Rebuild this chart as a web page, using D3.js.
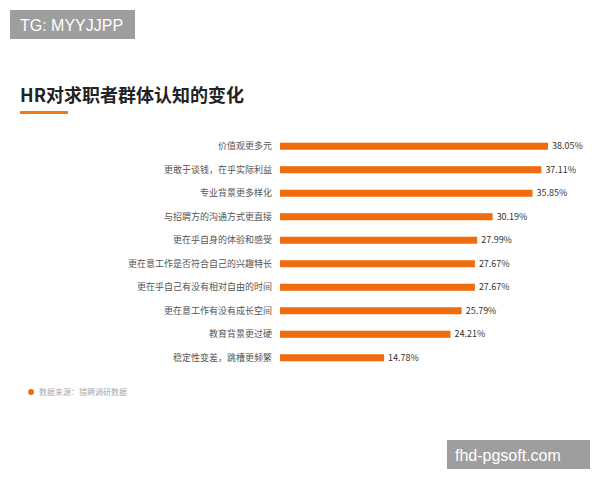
<!DOCTYPE html>
<html><head><meta charset="utf-8">
<script src="https://cdn.jsdelivr.net/npm/d3@7"></script>
<style>body{margin:0;background:#fff}</style>
</head><body>
<svg id="viz" width="600" height="480"></svg>
<script>
const categories = ["价值观更多元","更敢于谈钱，在乎实际利益","专业背景更多样化","与招聘方的沟通方式更直接","更在乎自身的体验和感受","更在意工作是否符合自己的兴趣特长","更在乎自己有没有相对自由的时间","更在意工作有没有成长空间","教育背景更过硬","稳定性变差，跳槽更频繁"];
const values = [38.05,37.11,35.85,30.19,27.99,27.67,27.67,25.79,24.21,14.78];

const svg = d3.select("#viz");
const font = "'Noto Sans CJK SC', sans-serif";

// watermark boxes
svg.append("rect").attr("x",10).attr("y",10).attr("width",125).attr("height",29).attr("fill","#9e9e9e");
svg.append("text").attr("x",20).attr("y",31).attr("fill","#fff").attr("font-size",16).attr("font-family","Arial, sans-serif").text("TG: MYYJJPP");
svg.append("rect").attr("x",447).attr("y",440).attr("width",143).attr("height",29).attr("fill","#9e9e9e");
svg.append("text").attr("x",455).attr("y",461).attr("fill","#fff").attr("font-size",16).attr("font-family","Arial, sans-serif").text("fhd-pgsoft.com");

// title
svg.append("text").attr("x",20).attr("y",102).attr("font-size",18).attr("font-weight","bold")
  .attr("font-family",font).attr("fill","#222").text("HR对求职者群体认知的变化");
svg.append("rect").attr("x",20).attr("y",111).attr("width",48).attr("height",3).attr("fill","#f07a1a");

const x = d3.scaleLinear().domain([0,38.05]).range([280,548]);
const y = d3.scaleBand().domain(categories).range([138,366]).paddingInner(0.7).paddingOuter(0.2);

const g = svg.append("g");
g.selectAll("rect.bar").data(values).join("rect").attr("class","bar")
  .attr("x",x(0)).attr("y",(d,i)=>y(categories[i]))
  .attr("width",d=>x(d)-x(0)).attr("height",y.bandwidth()).attr("fill","#ef6c0f");
g.selectAll("text.val").data(values).join("text").attr("class","val")
  .attr("x",d=>x(d)+4).attr("y",(d,i)=>y(categories[i])+y.bandwidth()/2)
  .attr("dy","0.35em").attr("font-size",9).attr("font-family",font).attr("fill","#333")
  .text(d=>d.toFixed(2)+"%");
g.selectAll("text.cat").data(categories).join("text").attr("class","cat")
  .attr("x",x(0)-8).attr("y",d=>y(d)+y.bandwidth()/2).attr("dy","0.35em")
  .attr("text-anchor","end").attr("font-size",9).attr("font-family",font).attr("fill","#555")
  .text(d=>d);

// source
svg.append("circle").attr("cx",31).attr("cy",392).attr("r",3).attr("fill","#ef6c0f");
svg.append("text").attr("x",39).attr("y",395).attr("font-size",8).attr("font-family",font)
  .attr("fill","#aaa").text("数据来源：猎聘调研数据");
</script>
</body></html>
